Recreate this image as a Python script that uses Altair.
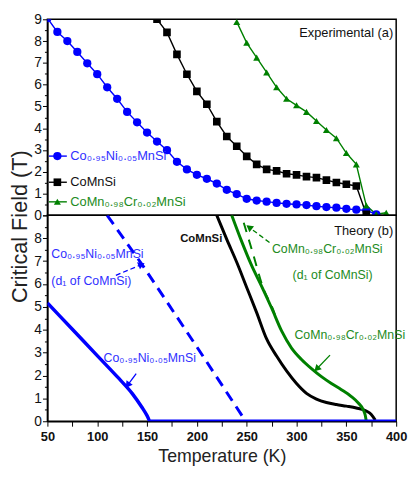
import math
import altair as alt
import pandas as pd

# ---------------- data ----------------
NI = "Co₀.₉₅Ni₀.₀₅MnSi"
CO = "CoMnSi"
CR = "CoMn₀.₉₈Cr₀.₀₂MnSi"
D1 = "(d₁ of CoMnSi)"

exp_ni_T = [50, 60, 70, 80, 90, 100, 110, 120, 130, 140, 150, 160, 170, 180, 190, 200, 210,
            220, 230, 240, 250, 260, 270, 280, 290, 300, 310, 320, 330, 340, 350, 360, 370, 380]
exp_ni_H = [9.05, 8.42, 8.0, 7.5, 6.98, 6.48, 5.88, 5.35, 4.75, 4.27, 3.80, 3.39, 2.99, 2.46, 2.11, 1.86, 1.68,
            1.46, 1.17, 0.98, 0.76, 0.68, 0.63, 0.57, 0.53, 0.50, 0.47, 0.42, 0.38, 0.35, 0.30, 0.26, 0.23, 0.05]

exp_co_T = [160, 170, 180, 190, 200, 210, 220, 230, 240, 250, 260, 270, 280, 290, 300, 310, 320,
            330, 340, 350, 360, 370]
exp_co_H = [9.0, 8.4, 7.39, 6.48, 5.69, 5.1, 4.30, 3.62, 3.17, 2.71, 2.34, 2.11, 2.04, 1.91, 1.86, 1.78, 1.73,
            1.62, 1.51, 1.43, 1.35, 0.05]

exp_cr_T = [240, 250, 260, 270, 280, 290, 300, 310, 320, 330, 340, 350, 360, 370, 380, 390]
exp_cr_H = [8.88, 7.92, 7.24, 6.56, 5.88, 5.35, 5.05, 4.75, 4.33, 3.92, 3.54, 2.86, 2.34, 0.45, 0.05, 0.12]

th_ni_T = [50, 75, 100, 120, 135, 145, 150, 153, 400]
th_ni_H = [5.17, 4.02, 2.87, 1.95, 1.22, 0.6, 0.25, 0.0, 0.0]
th_ni_d1_T = [110, 145, 200, 249]
th_ni_d1_H = [9.0, 6.85, 3.25, 0.0]
th_co_T = [220, 230, 240, 250, 260, 270, 280, 290, 300, 310, 320, 330, 340, 350, 360, 370, 375, 379]
th_co_H = [9.0, 7.95, 6.95, 5.85, 4.75, 3.6, 2.85, 2.2, 1.65, 1.22, 0.97, 0.82, 0.73, 0.66, 0.58, 0.45, 0.3, 0.05]
th_cr_T = [235, 245, 255, 265, 275, 285, 295, 305, 315, 325, 335, 345, 355, 362, 367, 369, 370]
th_cr_H = [9.0, 7.85, 6.8, 5.9, 4.95, 3.95, 3.2, 2.7, 2.3, 1.95, 1.65, 1.38, 1.08, 0.8, 0.5, 0.25, 0.0]
th_cr_d1_T = [247, 256.4, 266.1, 277.8, 280]
th_cr_d1_H = [8.68, 7.31, 5.88, 4.73, 4.44]

# ---------------- styling helpers ----------------
SANS = "Liberation Sans, Arial, sans-serif"
BLUE, BLACK, GREEN = "#0000ff", "#000000", "#008000"
BLUE_T, GREEN_T = "#3030ff", "#228b22"
names = [NI, CO, CR]
colors = [BLUE, BLACK, GREEN]

W, H_TOP, H_BOT = 354, 199, 209
XMIN, XMAX = 50, 400
xsc = alt.Scale(domain=[XMIN, XMAX], nice=False, zero=False)
ysc = alt.Scale(domain=[0, 9], nice=False, zero=False)


def frame(Ts, Hs, name):
    return pd.DataFrame({"T": Ts, "H": Hs, "series": name})


exp_df = pd.concat([frame(exp_ni_T, exp_ni_H, NI), frame(exp_co_T, exp_co_H, CO),
                    frame(exp_cr_T, exp_cr_H, CR)], ignore_index=True)

color_enc = alt.Color("series:N", scale=alt.Scale(domain=names, range=colors), legend=None)
shape_enc = alt.Shape("series:N", scale=alt.Scale(domain=names, range=["circle", "square", "triangle-up"]), legend=None)
size_enc = alt.Size("series:N", scale=alt.Scale(domain=names, range=[70, 50, 80]), legend=None)

half_steps = [v / 2 for v in range(0, 19)]
tick_cond = {"condition": {"test": "datum.value % 1 == 0", "value": 5}, "value": 3}
ytop_axis = alt.Axis(values=half_steps, title="Critical Field (T)",
                     labelExpr="datum.value % 1 != 0 ? '' : format(datum.value, 'd')",
                     tickSize=tick_cond, labelOverlap=False, labelFlush=False,
                     labelFont=SANS, labelFontSize=14, labelPadding=1,
                     titleFont=SANS, titleFontSize=22, titleFontWeight="normal",
                     titleColor="#222", titleY=210, titlePadding=2)
ybot_axis = alt.Axis(values=half_steps, title=None,
                     labelExpr="datum.value % 1 != 0 || datum.value == 9 ? '' : format(datum.value, 'd')",
                     tickSize=tick_cond, labelOverlap=False, labelFlush=False,
                     labelFont=SANS, labelFontSize=14, labelPadding=1)
x_axis = alt.Axis(values=list(range(50, 401, 25)), title="Temperature (K)",
                  labelExpr="datum.value % 50 == 0 ? format(datum.value, 'd') : ''",
                  tickSize=5, labelOverlap=False, labelFlush=False, labelFont=SANS,
                  labelFontSize=13, labelFontWeight="bold", labelPadding=5,
                  titleFont=SANS, titleFontSize=18, titleFontWeight="normal", titleColor="#222",
                  titlePadding=4)


def TX(field):  # x encoding, top panel (no axis)
    return alt.X(field, type="quantitative", scale=xsc, axis=None)


def TY(field):  # y encoding, top panel
    return alt.Y(field, type="quantitative", scale=ysc, axis=ytop_axis)


def BX(field):  # x encoding, bottom panel
    return alt.X(field, type="quantitative", scale=xsc, axis=x_axis)


def BY(field):  # y encoding, bottom panel
    return alt.Y(field, type="quantitative", scale=ysc, axis=ybot_axis)


# ---------------- top (experimental) ----------------
base_top = alt.Chart(exp_df).encode(x=TX("T"), y=TY("H"))
exp_lines = base_top.mark_line(strokeWidth=1.4, clip=True).encode(color=color_enc, detail="series:N")
exp_pts = base_top.mark_point(filled=True, opacity=1, clip=True).encode(
    color=color_enc, shape=shape_enc, size=size_enc)

# legend (drawn in data space)
leg_df = pd.DataFrame({"series": names, "H": [2.72, 1.52, 0.62]})
leg_df["T0"], leg_df["T1"], leg_df["Tm"], leg_df["Tt"] = 51.5, 69.5, 60.0, 73.0
leg_df["tcol"] = [BLUE_T, "#111111", GREEN_T]
leg_base = alt.Chart(leg_df)
leg_rule = leg_base.mark_rule(strokeWidth=1.4).encode(x=TX("T0"), x2="T1:Q", y=TY("H"), color=color_enc)
leg_pts = leg_base.mark_point(filled=True, opacity=1).encode(
    x=TX("Tm"), y=TY("H"), color=color_enc, shape=shape_enc, size=size_enc)
leg_txt = leg_base.mark_text(align="left", baseline="middle", font=SANS, fontSize=13).encode(
    x=TX("Tt"), y=TY("H"), text="series:N", color=alt.Color("tcol:N", scale=None))

exp_label = alt.Chart(pd.DataFrame({"T": [397], "H": [8.35], "t": ["Experimental (a)"]})).mark_text(
    align="right", baseline="middle", font=SANS, fontSize=13, color="#111").encode(
    x=TX("T"), y=TY("H"), text="t:N")

top = alt.layer(exp_lines, exp_pts, leg_rule, leg_pts, leg_txt, exp_label).properties(width=W, height=H_TOP)

# ---------------- bottom (theory) ----------------
th_black = alt.Chart(frame(th_co_T, th_co_H, CO)).mark_line(
    strokeWidth=3, clip=True, color=BLACK, interpolate="monotone").encode(x=BX("T"), y=BY("H"))
th_green = alt.Chart(frame(th_cr_T, th_cr_H, CR)).mark_line(
    strokeWidth=3, clip=True, color=GREEN, interpolate="monotone").encode(x=BX("T"), y=BY("H"))
th_blue = alt.Chart(frame(th_ni_T, th_ni_H, NI)).mark_line(
    strokeWidth=3.5, clip=True, color=BLUE, interpolate="monotone").encode(x=BX("T"), y=BY("H"))
th_blue_d = alt.Chart(frame(th_ni_d1_T, th_ni_d1_H, NI)).mark_line(
    strokeWidth=3, strokeDash=[11, 7], clip=True, color=BLUE).encode(x=BX("T"), y=BY("H"))
th_green_d = alt.Chart(frame(th_cr_d1_T, th_cr_d1_H, CR)).mark_line(
    strokeWidth=2, strokeDash=[10, 8], clip=True, color=GREEN, interpolate="monotone").encode(x=BX("T"), y=BY("H"))

# annotations
ann = pd.DataFrame({
    "T": [53.9, 53.9, 106.4, 275.3, 296.0, 297.9],
    "H": [7.33, 6.12, 2.76, 7.54, 6.38, 3.75],
    "t": [NI, D1, NI, CR, D1, CR],
    "c": [BLUE_T, BLUE_T, BLUE_T, GREEN_T, GREEN_T, GREEN_T],
})
ann_txt = alt.Chart(ann).mark_text(align="left", baseline="middle", font=SANS, fontSize=12.5).encode(
    x=BX("T"), y=BY("H"), text="t:N", color=alt.Color("c:N", scale=None))
comnsi_txt = alt.Chart(pd.DataFrame({"T": [183.2], "H": [7.95], "t": [CO]})).mark_text(
    align="left", baseline="middle", font=SANS, fontSize=11.5, fontWeight="bold", color="#111").encode(
    x=BX("T"), y=BY("H"), text="t:N")
theory_txt = alt.Chart(pd.DataFrame({"T": [397], "H": [8.3], "t": ["Theory (b)"]})).mark_text(
    align="right", baseline="middle", font=SANS, fontSize=13, color="#111").encode(
    x=BX("T"), y=BY("H"), text="t:N")

# arrows: start (T1,H1) -> tip (T2,H2)
arrows = pd.DataFrame({
    "T1": [118.7, 139.1, 272.9, 333.6],
    "H1": [6.38, 2.08, 7.81, 2.89],
    "T2": [146.2, 129.4, 250.9, 319.0],
    "H2": [6.88, 1.51, 8.53, 2.23],
    "c": [BLUE, BLUE, GREEN, GREEN],
    "dash": [True, False, True, False],
})
pxT = W / (XMAX - XMIN)
pxH = H_BOT / 9.0
angs, hT, hH = [], [], []
for _, r in arrows.iterrows():
    dx = (r.T2 - r.T1) * pxT
    dy = -(r.H2 - r.H1) * pxH
    L = math.hypot(dx, dy)
    angs.append(math.degrees(math.atan2(dx, -dy)) % 360)
    hT.append(r.T2 - 3.0 * dx / L / pxT)
    hH.append(r.H2 + 3.0 * dy / L / pxH)
arrows["ang"], arrows["hT"], arrows["hH"] = angs, hT, hH

ar_solid = alt.Chart(arrows[~arrows.dash]).mark_rule(strokeWidth=1.3).encode(
    x=BX("T1"), x2="T2:Q", y=BY("H1"), y2="H2:Q", color=alt.Color("c:N", scale=None))
ar_dash = alt.Chart(arrows[arrows.dash]).mark_rule(strokeWidth=1.3, strokeDash=[5, 3]).encode(
    x=BX("T1"), x2="T2:Q", y=BY("H1"), y2="H2:Q", color=alt.Color("c:N", scale=None))
ar_head = alt.Chart(arrows).mark_point(shape="triangle", filled=True, opacity=1, size=60).encode(
    x=BX("hT"), y=BY("hH"), angle=alt.Angle("ang:Q", scale=None), color=alt.Color("c:N", scale=None))

bottom = alt.layer(th_black, th_green, th_green_d, th_blue_d, th_blue, ar_solid, ar_dash, ar_head,
                   ann_txt, comnsi_txt, theory_txt).properties(width=W, height=H_BOT)

chart = alt.vconcat(top, bottom, spacing=0, bounds="flush").properties(
    padding={"left": 0, "top": 0, "right": 0, "bottom": 0}
).configure_view(stroke="black", strokeWidth=1.5).configure_axis(
    domainColor="black", tickColor="black", labelColor="#111", grid=False, domainWidth=1.5
)

chart.save("out.html", embed_options={"renderer": "svg", "actions": False})
